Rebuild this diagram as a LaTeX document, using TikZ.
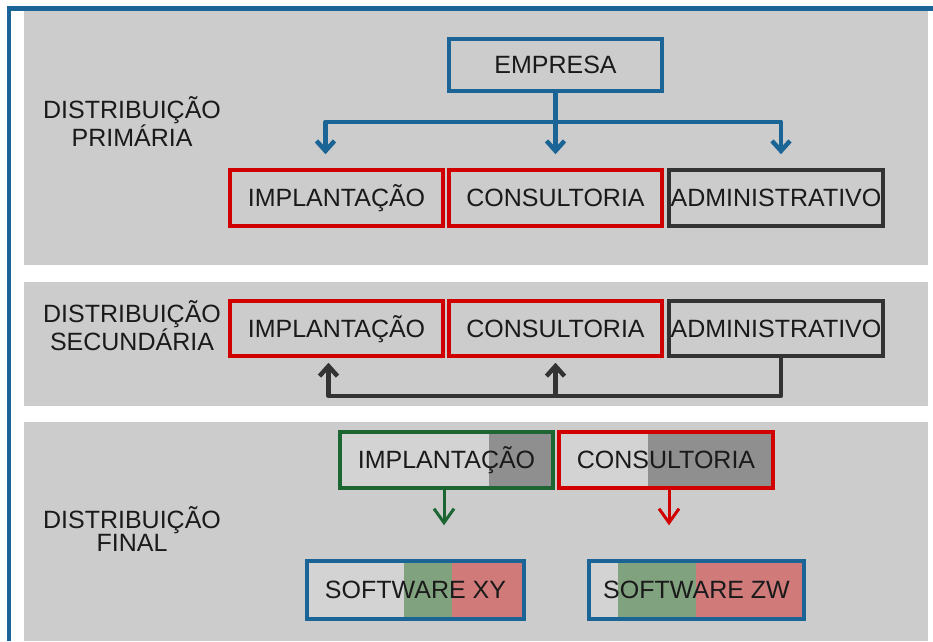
\documentclass[tikz,border=0pt]{standalone}
\usepackage{fontspec}
\setmainfont{Liberation Sans}
\usetikzlibrary{arrows.meta, calc}

\definecolor{panelgray}{HTML}{CCCCCC}
\definecolor{frameblue}{HTML}{1A6496}
\definecolor{boxred}{HTML}{D00000}
\definecolor{boxdark}{HTML}{333333}
\definecolor{boxgreen}{HTML}{1B6632}
\definecolor{textdark}{HTML}{1A1A1A}
\definecolor{lightfill}{HTML}{D3D3D3}
\definecolor{tonedark}{HTML}{8F8F8F}
\definecolor{tonegreen}{HTML}{80A27E}
\definecolor{tonered}{HTML}{D07A7A}

\begin{document}
\begin{tikzpicture}[
    x=1pt, y=-1pt,
    box/.style={
        rectangle,
        draw,
        line width=3.5pt,
        minimum width=213pt,
        minimum height=56pt,
        inner sep=0pt,
        text height=17.5pt,
        text depth=0pt,
        font=\fontsize{25}{21}\selectfont,
        text=textdark
    },
    stagename/.style={font=\fontsize{25}{21}\selectfont, align=center, text=textdark},
    link/.style={line width=4.5pt, line join=round, -{Straight Barb[length=10pt, width=18pt]}},
    thinlink/.style={line width=3pt, -{Straight Barb[length=14pt, width=20pt]}},
    band/.style n args={3}{path picture={
        \fill[#3] ($(path picture bounding box.north west)!#1!(path picture bounding box.north east)$)
            rectangle ($(path picture bounding box.south west)!#2!(path picture bounding box.south east)$);
    }},
    bands/.style n args={3}{path picture={
        \fill[tonegreen] ($(path picture bounding box.north west)!#1!(path picture bounding box.north east)$)
            rectangle ($(path picture bounding box.south west)!#2!(path picture bounding box.south east)$);
        \fill[tonered] ($(path picture bounding box.north west)!#2!(path picture bounding box.north east)$)
            rectangle ($(path picture bounding box.south west)!#3!(path picture bounding box.south east)$);
    }}
]
\useasboundingbox (0,0) rectangle (933,641);

% frame and panels
\fill[panelgray] (24,11) rectangle (928,265);
\fill[panelgray] (24,282) rectangle (928,406);
\fill[panelgray] (24,422) rectangle (928,641);
\fill[frameblue] (7,6) rectangle (933,11);
\fill[frameblue] (7,6) rectangle (10.5,641);

\node[stagename] (st1) at (132,122) {DISTRIBUIÇÃO\\PRIMÁRIA};
\node[stagename] (st2) at (132,326) {DISTRIBUIÇÃO\\SECUNDÁRIA};
\node[stagename] (st3) at (132,529) {DISTRIBUIÇÃO\\FINAL};

% primaria
\node[box, draw=frameblue, minimum height=52pt] (emp) at (555.5,65) {EMPRESA};
\node[box, draw=boxred] (impl1) at (336.5,198) {IMPLANTAÇÃO};
\node[box, draw=boxred] (cons1) at (555.5,198) {CONSULTORIA};
\node[box, draw=boxdark, minimum width=214pt] (adm1) at (776,198) {ADMINISTRATIVO};

\draw[link, frameblue, shorten >=14pt] (emp.south) -- ++(0,29) -| ([xshift=-11pt]impl1.north);
\draw[link, frameblue, shorten >=14pt] (emp.south) -- (cons1.north);
\draw[link, frameblue, shorten >=14pt] (emp.south) -- ++(0,29) -| ([xshift=5pt]adm1.north);

% secundaria
\node[box, draw=boxred, minimum height=55pt] (impl2) at (336.5,328.5) {IMPLANTAÇÃO};
\node[box, draw=boxred, minimum height=55pt] (cons2) at (555.5,328.5) {CONSULTORIA};
\node[box, draw=boxdark, minimum height=55pt, minimum width=214pt] (adm2) at (776,328.5) {ADMINISTRATIVO};

\draw[link, boxdark, shorten >=5pt] ([xshift=5pt]adm2.south) -- ++(0,38) coordinate (back) -| ([xshift=-8pt]impl2.south);
\draw[link, boxdark, shorten >=5pt] (back -| cons2.south) -- (cons2.south);

% final
\node[box, draw=boxgreen, fill=lightfill, band={0.70}{1}{tonedark}] (impl3) at (446.5,460) {IMPLANTAÇÃO};
\node[box, draw=boxred, fill=lightfill, minimum width=214pt, band={0.416}{1}{tonedark}] (cons3) at (666,460) {CONSULTORIA};
\node[box, draw=frameblue, fill=lightfill, minimum width=217pt, minimum height=58pt, bands={0.447}{0.668}{1}] (sxy) at (415.5,590) {SOFTWARE XY};
\node[box, draw=frameblue, fill=lightfill, minimum width=215pt, minimum height=58pt, bands={0.135}{0.498}{1}] (szw) at (696.5,590) {SOFTWARE ZW};

\draw[thinlink, boxgreen, shorten >=34pt] ([xshift=-2.5pt]impl3.south) -- ([xshift=-2.5pt]impl3.south |- sxy.north);
\draw[thinlink, boxred, shorten >=34pt] ([xshift=3pt]cons3.south) -- ([xshift=3pt]cons3.south |- szw.north);

\end{tikzpicture}
\end{document}
